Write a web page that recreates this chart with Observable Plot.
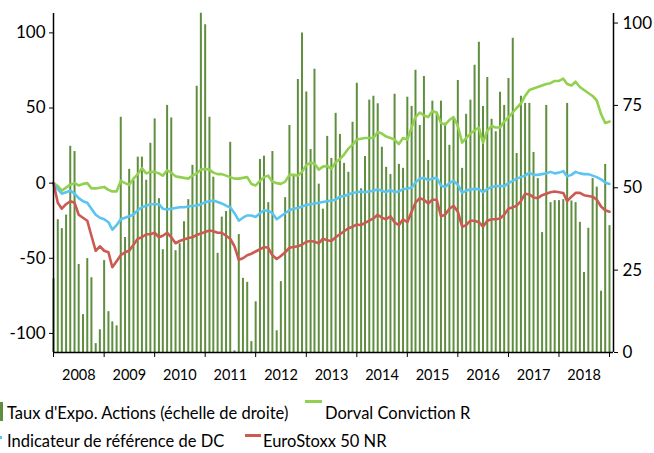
<!DOCTYPE html>
<html><head><meta charset="utf-8">
<script src="https://cdn.jsdelivr.net/npm/d3@7"></script>
<script src="https://cdn.jsdelivr.net/npm/@observablehq/plot@0.6"></script>
<style>
body{margin:0;background:#fff;font-family:Lato,"Liberation Sans",sans-serif;}
#wrap{position:relative;width:654px;height:450px;}
.lg{position:absolute;font-size:16.5px;line-height:14px;color:#000;white-space:nowrap;}
.sw{position:absolute;}
</style></head><body>
<div id="wrap"><div id="chart"></div><div id="legend"></div></div>
<script>
// ---- data ----
const seriesNames = ["Taux d'Expo. Actions (échelle de droite)", "Dorval Conviction R", "Indicateur de référence de DC", "EuroStoxx 50 NR"];
const seriesColors = ["#5e8e3e", "#92d050", "#5bc5f2", "#cc5a52"];
const yearLabels = [2008,2009,2010,2011,2012,2013,2014,2015,2016,2017,2018];
const leftTicks = [-100,-50,0,50,100];
const rightTicks = [0,25,50,75,100];

// monthly equity exposure (right scale, %), Jan 2008 .. Jan 2019
const expo = [22.4,40.3,37.6,41.7,62.6,61.0,26.7,11.5,28.5,22.7,2.7,6.9,
27.9,12.4,9.3,8.1,71.4,34.9,55.6,52.3,59.3,59.3,52.3,63.5,
70.9,46.7,31.2,75.0,71.2,30.9,33.0,39.7,46.4,56.8,80.8,103,
99.5,71.4,53.2,30.1,41.1,42.8,63.8,0.5,35.8,22.5,21.3,3.3,
15.4,58.6,59.6,45.5,61.0,6.6,21.5,47.0,68.9,53.5,82.9,97.0,
79.1,61.6,86.0,51.1,43.5,65.6,58.9,72.6,66.2,57.4,54.7,69.9,
81.7,49.7,59.5,76.6,77.8,75.5,62.3,56.2,54.0,78.4,57.1,55.9,
77.5,74.7,85.7,68.9,83.8,58.3,76.3,72.7,76.3,69.6,62.9,71,
82.6,55.9,72.3,76.6,87.2,94.2,74.7,83.5,70.8,67,79.0,75.0,
83.2,95.4,60.4,77.8,75.6,75.6,60.7,52.8,36.4,75.0,45.5,46.1,
46.1,46.4,75.6,46,45.5,39.5,24.3,37.7,52.8,50.2,18.6,57.1,
38.5];

// left scale performances (%), monthly
const dorval = [0,-2,-5,-3,-1,0,-1.5,-0.5,0,-3.5,-3.5,-3,
-2.5,-4.5,-5.5,-5.5,1.5,0,-1,3,6,10,6.5,7.5,
7.5,6.5,5,8.5,7,4.5,4,3.5,3,5,6.5,9,
9.5,9,7,6,6,5,4,3,3,3.5,4,-0.5,
-1.5,1.5,4,5,1,0,-0.5,1,5.5,5.5,5,7.5,
12,13.5,13,9,11,11.5,9.5,14,16,19,23,25.5,
29,29.5,30,30,30,34,33,31,30,29,26,30,
29,37,44,47,45,44,48,47,40,39,42,44,
38,27,30,33,35,37,27,35,38,37,37,41,
44,47,50,53,58,62,63,64,65,66,66.5,68,
68,69.5,66,65,67.5,64,62,60,58,55,46,40,
41];

const indicateur = [0,-4,-7,-6,-5,-7,-10,-12,-13,-17,-21,-23,
-24,-26,-31,-28,-24,-23,-22,-21,-18,-16,-15,-14,
-14,-14,-17,-17.5,-17,-16.5,-16,-16,-15.5,-15,-15,-14,
-12.7,-12,-11.5,-12.5,-13.5,-15,-16,-20,-25,-23,-21.5,-21.5,
-22.5,-20,-18,-18.5,-20,-24,-22,-20,-18,-17,-16.5,-15.5,
-14.5,-14,-13.5,-13,-12.5,-12,-11.5,-11,-9,-8.5,-7.5,-6.5,
-6,-5.5,-6,-5.5,-5,-4,-5,-6,-4.5,-6,-5.5,-4,
-3.5,-3,0.5,3,3.5,2,3,3.5,-1.5,-2.5,0,1.5,
-1,-6.5,-5,-4,-4,-4,-6,-4,-2.5,-2,-2,-2,
0,1.5,3,4,5,7,5.5,5.5,6,6.5,7.5,6.5,
7,8,4.5,5.5,7.5,6.5,6,6,5,4,2.5,0.5,
-0.5];

const eurostoxx = [0,-13,-17,-14,-12,-13,-21,-23,-25,-35,-45,-42,
-45,-46,-56,-52,-48,-46,-45,-41,-37,-36,-34,-34,
-33,-36,-35,-33,-36,-40,-38.5,-37.5,-36.5,-36,-34.5,-33.5,
-32.5,-31.5,-32,-33,-33,-35,-37,-42,-51,-50,-48,-47,
-45.5,-44,-42.5,-43,-48,-50.5,-48.5,-46,-43,-42.5,-42,-41,
-39,-38.5,-39,-40,-37,-38,-38.5,-36,-34,-32,-30,-29,
-27.5,-28,-26.5,-25,-23.5,-21,-23,-24,-22,-26,-28,-24,
-26,-19,-13,-10,-11,-13.5,-11,-11,-22,-21,-17,-15,
-19,-29,-28,-25,-25,-26,-29,-25,-24,-24,-23.5,-21,
-17,-16,-15,-12,-7,-7.5,-9.5,-10,-8,-7,-6,-5.5,
-6,-6.5,-12,-9,-6.5,-6.5,-8,-8.5,-9,-11,-15.5,-18,
-19];

// ---- scales setup ----
const months = d3.utcMonth.range(new Date(Date.UTC(2008,0,1)), new Date(Date.UTC(2019,1,1)));
const L_MIN = -112.7, L_MAX = 112.9, R_MAX = 102.9;
const toLeft = r => L_MIN + r * (L_MAX - L_MIN) / R_MAX;
const toRight = l => (l - L_MIN) * R_MAX / (L_MAX - L_MIN);
const xStart = new Date(Date.UTC(2008,0,1)), xEnd = new Date(Date.UTC(2019,0,30));

const barData = expo.map((v,i) => ({date: months[i], v}));
const lineData = [];
[dorval, indicateur, eurostoxx].forEach((arr, k) => arr.forEach((v,i) => lineData.push({date: months[i], v, s: seriesNames[k+1]})));

const yearBounds = yearLabels.map(y => new Date(Date.UTC(y,0,1))).concat([new Date(Date.UTC(2019,0,1))]);
const midYears = yearLabels.map(y => new Date(Date.UTC(y,6,2)));

const chart = Plot.plot({
  width: 654, height: 390,
  marginLeft: 53, marginRight: 41, marginTop: 13, marginBottom: 38,
  style: {fontFamily: 'Lato,"Liberation Sans",sans-serif', color: "#000", background: "transparent", overflow: "visible"},
  x: {type: "utc", domain: [xStart, xEnd]},
  y: {domain: [L_MIN, L_MAX]},
  marks: [
    Plot.ruleX(barData, {x: "date", y1: L_MIN, y2: d => toLeft(d.v), stroke: seriesColors[0], strokeWidth: 2}),
    Plot.line(lineData.filter(d => d.s === seriesNames[1]), {x: "date", y: "v", stroke: seriesColors[1], strokeWidth: 2.6}),
    Plot.line(lineData.filter(d => d.s === seriesNames[2]), {x: "date", y: "v", stroke: seriesColors[2], strokeWidth: 2.6}),
    Plot.line(lineData.filter(d => d.s === seriesNames[3]), {x: "date", y: "v", stroke: seriesColors[3], strokeWidth: 2.6}),
    Plot.ruleX([xStart], {stroke: "#000", strokeWidth: 1.5}),
    Plot.ruleX([xEnd], {stroke: "#000", strokeWidth: 1.5}),
    Plot.ruleY([L_MIN], {stroke: "#000", strokeWidth: 1.5}),
    Plot.axisY({ticks: leftTicks, tickFormat: d => String(d), tickSize: 4, tickPadding: 4, fontSize: 17, label: null}),
    Plot.axisY({anchor: "right", ticks: rightTicks.map(toLeft), tickFormat: d => String(Math.round(toRight(d))), tickSize: 4, tickPadding: 5, fontSize: 17, label: null}),
    Plot.axisX({ticks: yearBounds, tickFormat: () => "", tickSize: 5, label: null}),
    Plot.axisX({ticks: midYears, tickFormat: d => String(d.getUTCFullYear()), tickSize: 0, tickPadding: 17, fontSize: 14.5, label: null})
  ]
});
document.getElementById("chart").appendChild(chart);

// ---- legend ----
const lg = document.getElementById("legend");
function add(html){ lg.insertAdjacentHTML("beforeend", html); }
add(`<div class="sw" style="left:0;top:402px;width:3px;height:19px;background:${seriesColors[0]}"></div>`);
add(`<div class="lg" style="left:7px;top:406px">${seriesNames[0]}</div>`);
add(`<div class="sw" style="left:305px;top:400px;width:17px;height:3px;background:${seriesColors[1]}"></div>`);
add(`<div class="lg" style="left:325px;top:406px">${seriesNames[1]}</div>`);
add(`<div class="sw" style="left:0;top:436px;width:2px;height:3px;background:${seriesColors[2]}"></div>`);
add(`<div class="lg" style="left:7px;top:434px">${seriesNames[2]}</div>`);
add(`<div class="sw" style="left:245px;top:434px;width:16px;height:3px;background:${seriesColors[3]}"></div>`);
add(`<div class="lg" style="left:263px;top:434px">${seriesNames[3]}</div>`);
</script>
</body></html>
